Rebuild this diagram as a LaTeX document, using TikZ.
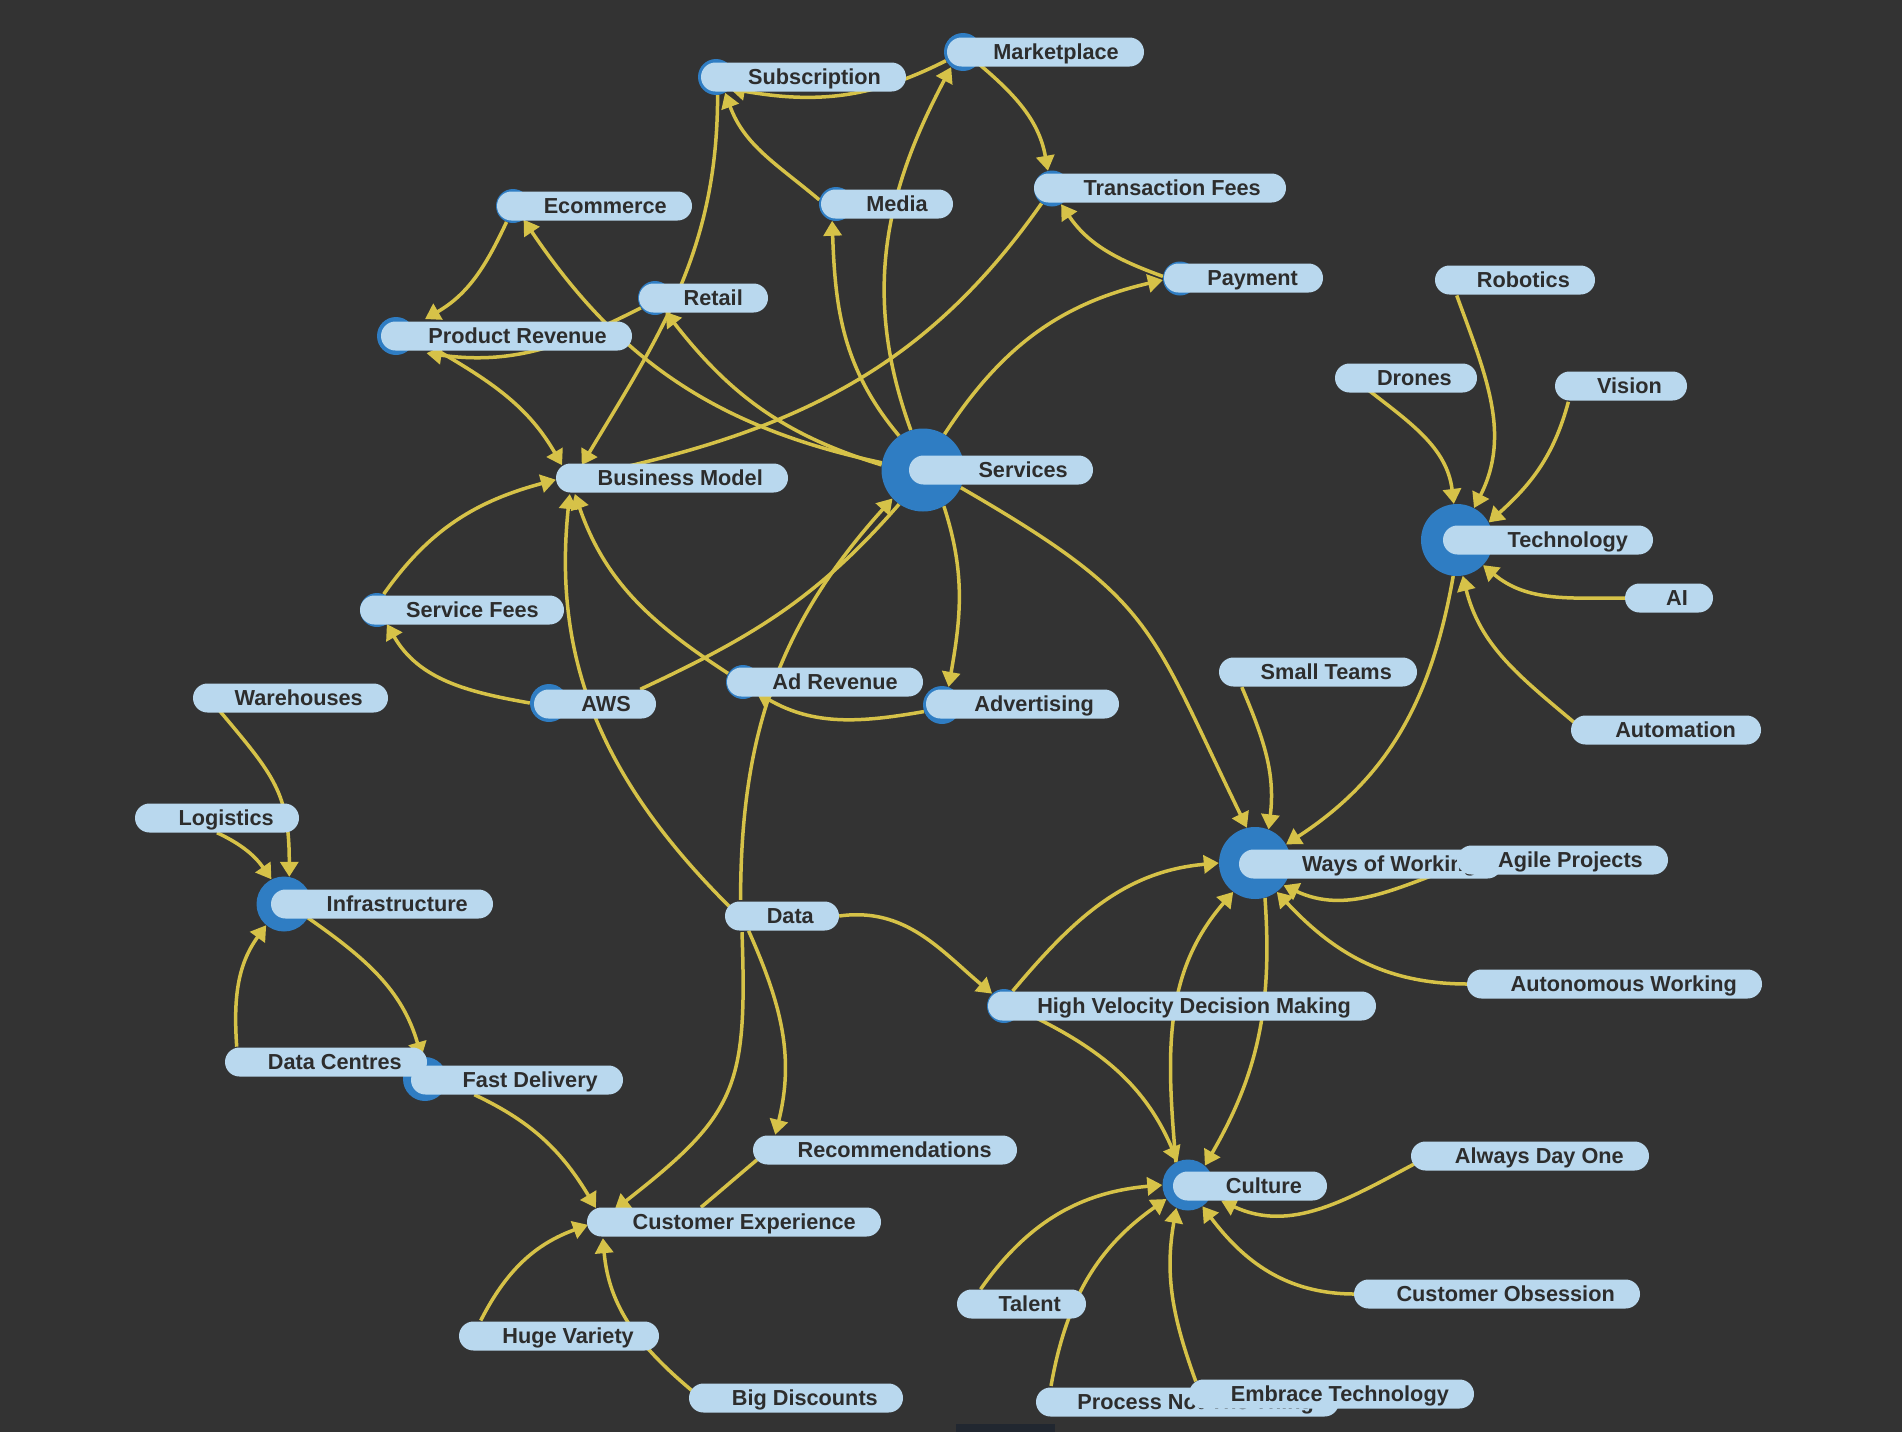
\documentclass[tikz,border=0pt]{standalone}
\usepackage{fontspec}
\setmainfont{Liberation Sans}
\usetikzlibrary{arrows.meta}
\pgfdeclarelayer{bglayer}
\pgfdeclarelayer{edgelayer}
\pgfsetlayers{bglayer,edgelayer,main}
\definecolor{bgc}{RGB}{51,51,51}
\definecolor{edgec}{RGB}{214,194,72}
\definecolor{dotc}{RGB}{47,125,195}
\definecolor{pillc}{RGB}{185,216,238}
\definecolor{txtc}{RGB}{45,45,45}
\definecolor{barc}{RGB}{33,39,48}
\tikzset{
  dot/.style={circle, fill=dotc, draw=none, inner sep=0pt},
  anc/.style={circle, draw=none, inner sep=0pt, minimum size=32pt},
  pill/.style={rectangle, rounded corners=14.5pt, fill=pillc, draw=none, inner sep=0pt, minimum height=29pt},
  lbl/.style={text=txtc, inner sep=0pt, anchor=base east, font=\fontsize{21.7pt}{26pt}\selectfont\bfseries},
  link/.style={draw=edgec, line width=3.5pt},
  arr/.style={link, -{Triangle[length=15pt,width=18pt]}},
}
\newcommand\mpill[5]{%
  \pgfmathsetmacro\pw{#3-#2}%
  \pgfmathsetmacro\pc{(#2+#3)/2}%
  \pgfmathsetmacro\tx{#3-25}%
  \pgfmathsetmacro\ty{-#4-7.8}%
  \node[pill, minimum width=\pw pt] (#1p) at (\pc,-#4) {};
  \node[lbl] (#1t) at (\tx,\ty) {#5};
}
\newcommand\mdot[4]{\node[dot, minimum size=#4pt] (#1) at (#2,-#3) {};}
\newcommand\manc[3]{\node[anc] (#1) at (#2,-#3) {};}
\begin{document}
\begin{tikzpicture}[x=1pt,y=1pt]
\useasboundingbox (0,0) rectangle (1902,-1432);
\begin{pgfonlayer}{bglayer}
\fill[bgc] (0,0) rectangle (1902,-1432);
\fill[barc] (956,-1424) rectangle (1055,-1432);
\end{pgfonlayer}
% visible circles (diameter)
\mdot{mkt}{963}{52}{38}
\mdot{sub}{716}{77}{36}
\mdot{med}{836}{204}{34}
\mdot{tf}{1052}{188.5}{36}
\mdot{pay}{1180}{278.5}{34}
\mdot{eco}{513}{206}{34}
\mdot{ret}{655}{298}{34}
\mdot{prc}{396}{336}{38}
\mdot{srv}{923}{470}{83}
\mdot{sf}{377}{610}{34}
\mdot{aws}{549}{703}{38}
\mdot{adr}{743}{682}{34}
\mdot{adv}{942}{705}{38}
\mdot{tec}{1457}{540}{72}
\mdot{ways}{1255}{863}{72}
\mdot{inf}{284}{904}{55}
\mdot{hv}{1004}{1006}{34}
\mdot{fd}{425}{1079}{44}
\mdot{cul}{1188}{1185}{51}
% invisible anchors
\node[anc, minimum size=34pt] (pr) at (428,-336) {};
\manc{bm}{572}{478}
\manc{rob}{1452}{280}
\manc{dro}{1352}{378}
\manc{vis}{1572}{386}
\manc{ai}{1642}{598}
\manc{aut}{1588}{730}
\manc{st}{1236}{672}
\manc{agi}{1474}{860}
\manc{aw}{1484}{984}
\manc{wh}{210}{698}
\manc{log}{152}{818}
\manc{dat}{742}{916}
\manc{dc}{242}{1062}
\manc{rec}{770}{1150}
\manc{cx}{604}{1222}
\manc{hvar}{476}{1336}
\manc{bd}{706}{1398}
\manc{ado}{1428}{1156}
\manc{co}{1371}{1294}
\manc{tal}{974}{1304}
\manc{pnt}{1053}{1402}
\manc{et}{1206}{1394}
% pills
\mpill{mkt}{947}{1144}{52}{Marketplace}
\mpill{sub}{701}{906}{77}{Subscription}
\mpill{med}{821}{953}{204}{Media}
\mpill{tf}{1034}{1286}{188}{Transaction Fees}
\mpill{pay}{1164}{1323}{278}{Payment}
\mpill{eco}{497}{692}{206}{Ecommerce}
\mpill{ret}{639}{768}{298}{Retail}
\mpill{pr}{381}{632}{336}{Product Revenue}
\mpill{bm}{556}{788}{478}{Business Model}
\mpill{srv}{909}{1093}{470}{Services}
\mpill{sf}{360}{564}{610}{Service Fees}
\mpill{aws}{534}{656}{704}{AWS}
\mpill{adr}{727}{923}{682}{Ad Revenue}
\mpill{adv}{926}{1119}{704}{Advertising}
\mpill{tec}{1443}{1653}{540}{Technology}
\mpill{rob}{1435}{1595}{280}{Robotics}
\mpill{dro}{1335}{1477}{378}{Drones}
\mpill{vis}{1555}{1687}{386}{Vision}
\mpill{ai}{1625}{1713}{598}{AI}
\mpill{aut}{1571}{1761}{730}{Automation}
\mpill{st}{1219}{1417}{672}{Small Teams}
\mpill{ways}{1239}{1502}{864}{Ways of Working}
\mpill{agi}{1457}{1668}{860}{Agile Projects}
\mpill{aw}{1467}{1762}{984}{Autonomous Working}
\mpill{wh}{193}{388}{698}{Warehouses}
\mpill{log}{135}{299}{818}{Logistics}
\mpill{inf}{271}{493}{904}{Infrastructure}
\mpill{dat}{725}{839}{916}{Data}
\mpill{hv}{988}{1376}{1006}{High Velocity Decision Making}
\mpill{fd}{411}{623}{1080}{Fast Delivery}
\mpill{dc}{225}{427}{1062}{Data Centres}
\mpill{rec}{753}{1017}{1150}{Recommendations}
\mpill{cx}{587}{881}{1222}{Customer Experience}
\mpill{hvar}{459}{659}{1336}{Huge Variety}
\mpill{bd}{689}{903}{1398}{Big Discounts}
\mpill{cul}{1173}{1327}{1186}{Culture}
\mpill{ado}{1411}{1649}{1156}{Always Day One}
\mpill{co}{1354}{1640}{1294}{Customer Obsession}
\mpill{tal}{957}{1086}{1304}{Talent}
\mpill{pnt}{1036}{1339}{1402}{Process Not The Thing}
\mpill{et}{1189}{1474}{1394}{Embrace Technology}
% connectors
\begin{pgfonlayer}{edgelayer}
\draw[arr] (mkt.-37) to[out=-40,in=100] (tf.103);
\draw[arr] (mkt.207) to[out=207,in=-10] (sub.-40);
\draw[arr] (med.166) to[out=140,in=-70] (sub.-60);
\draw[arr] (srv.125) to[out=130,in=-88] (med.-103);
\draw[arr] (srv.107) to[out=110,in=-118] (mkt.232);
\draw[arr] (srv.59) to[out=57,in=193] (pay.185);
\draw[arr] (pay.173) to[out=160,in=-56] (tf.-60);
\draw[link] (bm.10) to[out=12,in=-125] (tf.-125);
\draw[arr] (srv.170) to[out=168,in=-56] (eco.-52);
\draw[arr] (srv.173) to[out=163,in=-52] (ret.-53);
\draw[arr] (ret.215) to[out=207,in=-8] (pr.-95);
\draw[arr] (eco.-112) to[out=-115,in=30] (pr.100);
\draw[arr] (pr.-57) to[out=-30,in=120] (bm.128);
\draw[arr] (sub.-85) to[out=-90,in=59] (bm.53);
\draw[arr] (sf.67) to[out=55,in=195] (bm.186);
\draw[arr] (aws.180) to[out=170,in=-60] (sf.-55);
\draw[link] (awsp.18) to[out=25,in=-131] (srv.-125);
\draw[arr] (dat.95) to[out=90,in=228] (srv.223);
\draw[arr] (dat.143) to[out=135,in=-96] (bm.-98);
\draw[arr] (adr.150) to[out=147,in=-71] (bm.-80);
\draw[arr] (adv.200) to[out=190,in=-30] (adr.-38);
\draw[arr] (srv.-60) to[out=-72,in=80] (adv.70);
\draw[arr] (srv.-25) to[out=-30,in=116,looseness=1.3] (ways.103);
\draw[arr] (st.-69) to[out=-67,in=83] (ways.68);
\draw[arr] (tec.-96) to[out=-100,in=33] (ways.31);
\draw[arr] (datp.east) to[out=8,in=140] (hv.134);
\draw[arr] (hv.60) to[out=50,in=185] (ways.180);
\draw[arr] (ways.-74) to[out=-86,in=60] (cul.49);
\draw[arr] (cul.118) to[out=95,in=229] (ways.233);
\draw[arr] (hv.-15) to[out=-25,in=113] (cul.114);
\draw[arr] (agi.200) to[out=200,in=-25] (ways.-38);
\draw[arr] (aw.180) to[out=180,in=-47] (ways.-53);
\draw[arr] (rob.-73) to[out=-70,in=63] (tec.62);
\draw[arr] (dro.-36) to[out=-38,in=97] (tec.95);
\draw[arr] (vis.-103) to[out=-105,in=42] (tec.29);
\draw[arr] (ai.180) to[out=180,in=-40] (tec.-44);
\draw[arr] (aut.151) to[out=140,in=-76] (tec.-81);
\draw[arr] (wh.-53) to[out=-50,in=90,looseness=1.2] (inf.79);
\draw[arr] (logp.south) to[out=-25,in=125] (inf.117);
\draw[arr] (dc.109) to[out=94,in=234] (inf.230);
\draw[arr] (inf.-30) to[out=-35,in=106] (fd.99);
\draw[arr] (fdp.-161) to[out=-25,in=121] (cx.120);
\draw[arr] (dat.-90) to[out=-88,in=38,looseness=1.3] (cx.49);
\draw[arr] (dat.-66) to[out=-66,in=76] (rec.71);
\draw[link] (rec.217) to[out=220,in=40] (cxp.156);
\draw[arr] (hvar.73) to[out=63,in=200] (cx.190);
\draw[arr] (bd.152) to[out=140,in=-85] (cx.-94);
\draw[arr] (ado.210) to[out=208,in=-25] (culp.207);
\draw[arr] (co.180) to[out=180,in=-53] (cul.-56);
\draw[arr] (tal.66) to[out=55,in=185] (cul.180);
\draw[arr] (pnt.97) to[out=80,in=215] (cul.213);
\draw[arr] (et.129) to[out=110,in=-100] (cul.243);
\end{pgfonlayer}
\end{tikzpicture}
\end{document}
